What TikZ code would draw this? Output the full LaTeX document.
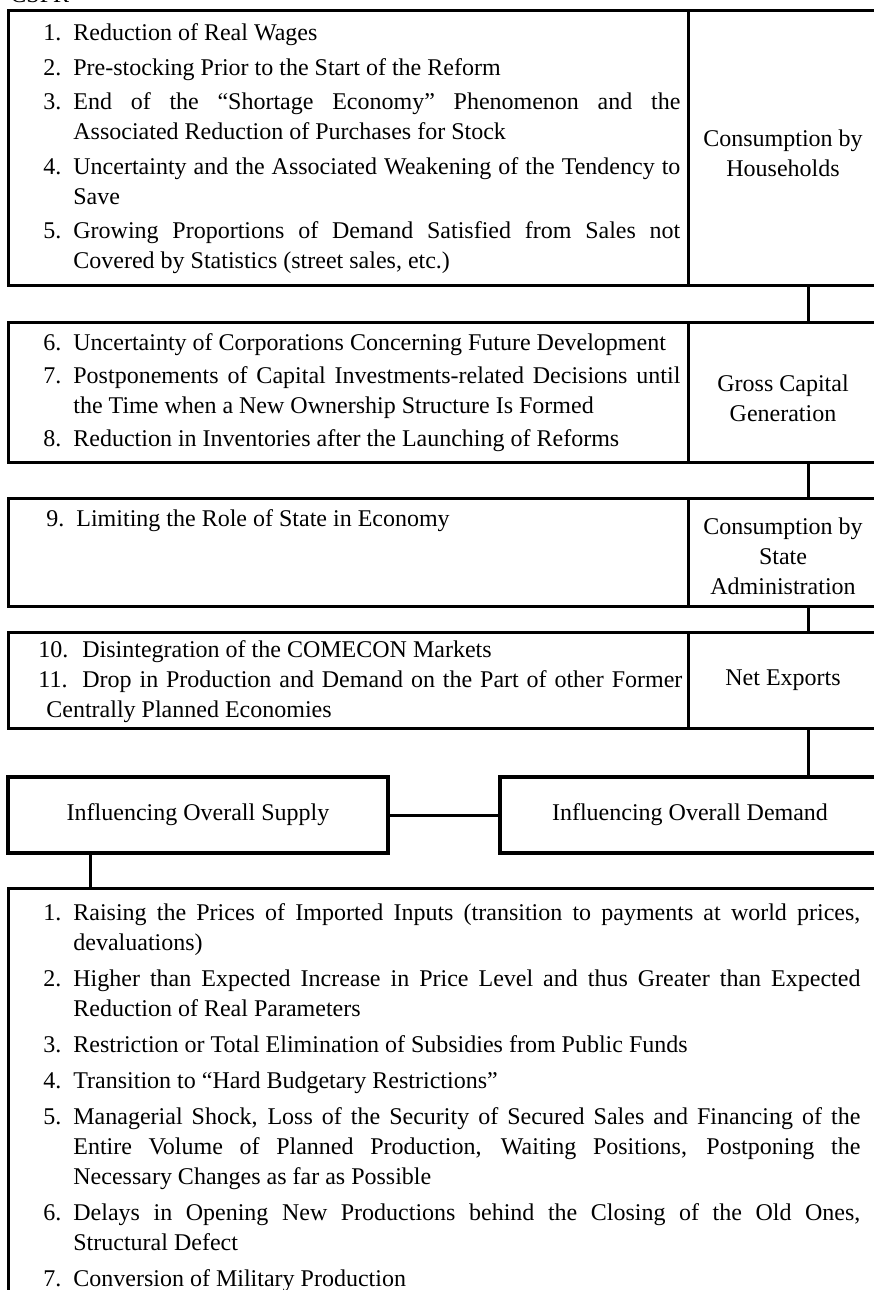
\documentclass[tikz,border=0pt]{standalone}
\usepackage{fontspec}
\setmainfont{Liberation Serif}
\usetikzlibrary{positioning}

\hyphenpenalty=10000
\exhyphenpenalty=10000
\newcommand\entry[1]{\par\noindent\hangindent=15pt\hangafter=1\makebox[15pt][l]{\strut#1}}
\newcommand\flatentry[1]{\par\noindent\hangindent=4pt\hangafter=1\makebox[22pt][l]{\strut#1}}

\begin{document}
\begin{tikzpicture}[x=0.5pt, y=-0.5pt, font=\fontsize{12}{15}\selectfont,
    cell/.style={draw, line width=1.5pt, anchor=north west, inner sep=0pt, outer sep=0pt, align=center},
    heavycell/.style={cell, line width=2.25pt},
    heading/.style={align=center, inner sep=0pt},
    link/.style={line width=1.5pt},
    itemlist/.style={inner sep=0pt, text width=318.5pt, align=justify,
      execute at begin node={\setlength{\parskip}{#1}}},
    itemlist/.default=0pt]

  \useasboundingbox (0,0) rectangle (873,1290);
  \coordinate (spine) at (808,0);
  \coordinate (drop) at (90,0);

  \node[anchor=base west, inner sep=0pt] (title) at (10,3) {CSFR};

  \node[cell, minimum width=340pt, minimum height=137.5pt] (hhL) at (8,10) {};
  \node[cell, minimum width=95pt, minimum height=137.5pt] (hhR) at (hhL.north east) {};
  \node[heading] (hhLabel) at ([yshift=-3pt]hhR.center) {Consumption by\\Households};
  \node[itemlist=2.25pt, below right=-2pt and 17.5pt of hhL.north west] (hhText) {%
    \entry{1.}Reduction of Real Wages
    \entry{2.}Pre-stocking Prior to the Start of the Reform
    \entry{3.}End of the “Shortage Economy” Phenomenon and the\linebreak
      Associated Reduction of Purchases for Stock
    \entry{4.}Uncertainty and the Associated Weakening of the Tendency to\linebreak
      Save
    \entry{5.}Growing Proportions of Demand Satisfied from Sales not\linebreak
      Covered by Statistics (street sales, etc.)\par};

  \node[cell, minimum width=340pt, minimum height=70pt, below right=18.5pt and 0pt of hhL.south west] (gcL) {};
  \node[cell, minimum width=95pt, minimum height=70pt] (gcR) at (gcL.north east) {};
  \node[heading] (gcLabel) at ([yshift=-3pt]gcR.center) {Gross Capital\\Generation};
  \node[itemlist=1.5pt, below right=-2.5pt and 17.5pt of gcL.north west] (gcText) {%
    \entry{6.}Uncertainty of Corporations Concerning Future Development
    \entry{7.}Postponements of Capital Investments-related Decisions until\linebreak
      the Time when a New Ownership Structure Is Formed
    \entry{8.}Reduction in Inventories after the Launching of Reforms\par};

  \node[cell, minimum width=340pt, minimum height=54pt, below right=18pt and 0pt of gcL.south west] (scL) {};
  \node[cell, minimum width=95pt, minimum height=54pt] (scR) at (scL.north east) {};
  \node[heading] (scLabel) at ([yshift=-2pt]scR.center) {Consumption by\\State\\Administration};
  \node[itemlist, below right=-1pt and 19pt of scL.north west] (scText) {%
    \entry{9.}Limiting the Role of State in Economy\par};

  \node[cell, minimum width=340pt, minimum height=48pt, below right=13pt and 0pt of scL.south west] (neL) {};
  \node[cell, minimum width=95pt, minimum height=48pt] (neR) at (neL.north east) {};
  \node[heading] (neLabel) at (neR.center) {Net Exports};
  \node[itemlist, text width=322pt, below right=-2.5pt and 15pt of neL.north west] (neText) {%
    \flatentry{10.}Disintegration of the COMECON Markets
    \flatentry{11.}Drop in Production and Demand on the Part of other Former\linebreak
      Centrally Planned Economies\par};

  \node[heavycell, minimum width=190pt, minimum height=38pt, below right=24.5pt and 0pt of neL.south west] (sup) {Influencing Overall Supply};
  \node[heavycell, minimum width=190pt, minimum height=38pt, right=56pt of sup] (dem) {Influencing Overall Demand};

  \node[cell, minimum width=436pt, minimum height=230pt, below right=17.5pt and 0pt of sup.south west] (eff) {};
  \node[itemlist=3pt, text width=408.5pt, below right=-2pt and 17.5pt of eff.north west] (effText) {%
    \entry{1.}Raising the Prices of Imported Inputs (transition to payments at world prices,\linebreak
      devaluations)
    \entry{2.}Higher than Expected Increase in Price Level and thus Greater than Expected\linebreak
      Reduction of Real Parameters
    \entry{3.}Restriction or Total Elimination of Subsidies from Public Funds
    \entry{4.}Transition to “Hard Budgetary Restrictions”
    \entry{5.}Managerial Shock, Loss of the Security of Secured Sales and Financing of the\linebreak
      Entire Volume of Planned Production, Waiting Positions, Postponing the\linebreak
      Necessary Changes as far as Possible
    \entry{6.}Delays in Opening New Productions behind the Closing of the Old Ones,\linebreak
      Structural Defect
    \entry{7.}Conversion of Military Production\par};

  \draw[link] (hhR.south -| spine) -- (gcR.north -| spine);
  \draw[link] (gcR.south -| spine) -- (scR.north -| spine);
  \draw[link] (scR.south -| spine) -- (neR.north -| spine);
  \draw[link] (neR.south -| spine) -- (dem.north -| spine);
  \draw[link] (sup.east) -- (dem.west);
  \draw[link] (sup.south -| drop) -- (eff.north -| drop);
\end{tikzpicture}
\end{document}
